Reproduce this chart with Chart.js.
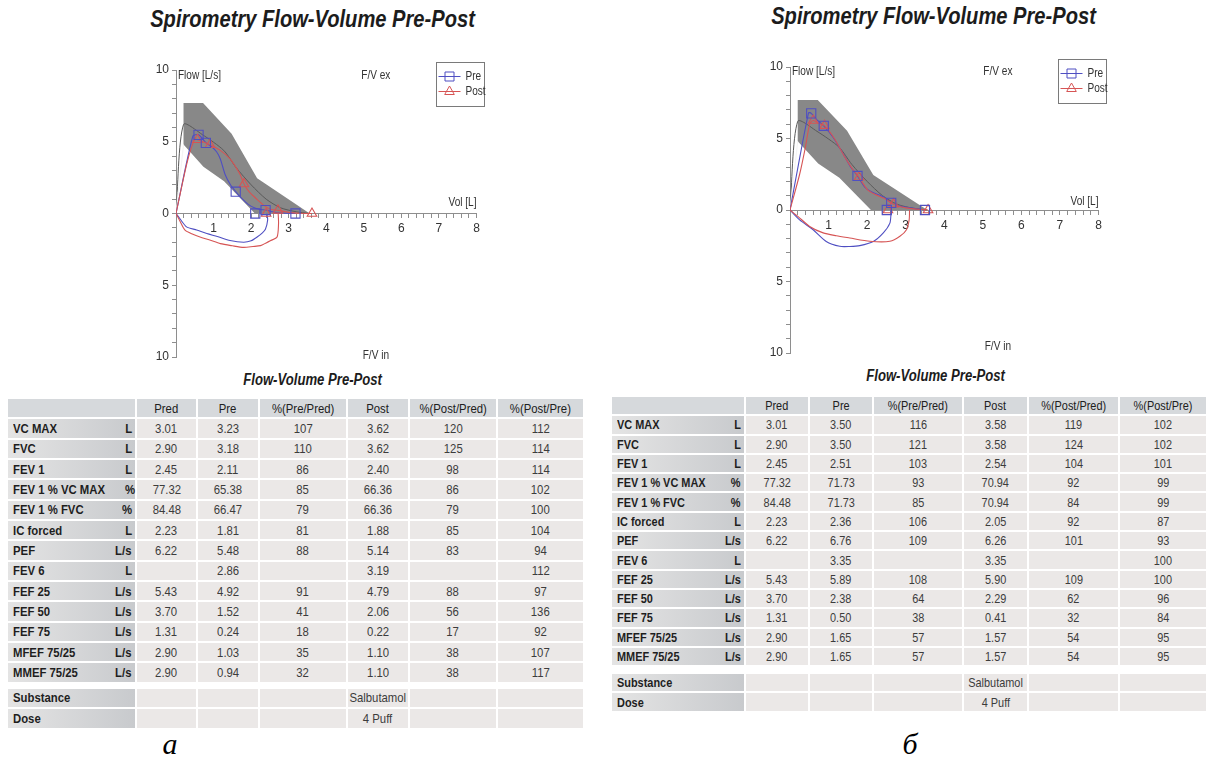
<!DOCTYPE html>
<html>
<head>
<meta charset="utf-8">
<title>Spirometry Flow-Volume Pre-Post</title>
<script src="https://cdn.jsdelivr.net/npm/chart.js@4.4.1/dist/chart.umd.min.js"></script>
<style>
  html, body { margin: 0; padding: 0; background: #fff; }
  body {
    width: 1211px; height: 765px; position: relative; overflow: hidden;
    font-family: 'Liberation Sans Narrow', 'Arial Narrow', 'Liberation Sans', Arial, sans-serif;
    color: #222;
  }
  .abs { position: absolute; }
  .narrow { display: inline-block; transform: scaleX(0.84); transform-origin: 50% 50%; white-space: nowrap; }
  .title { font-weight: bold; font-style: italic; font-size: 23px; text-align: center; white-space: nowrap; color: #1c1c1c; }
  .title .narrow { transform: scaleX(0.875); }
  .sub { font-weight: bold; font-style: italic; font-size: 16px; text-align: center; white-space: nowrap; color: #1c1c1c; }
  .sub .narrow { transform: scaleX(0.82); }
  .cap { font-family: 'Liberation Serif', 'DejaVu Serif', serif; font-style: italic; font-size: 30px; text-align: center; color: #000; }
  canvas { position: absolute; }
  .tbl { position: absolute; }
  .row { display: flex; }
  .cell {
    box-sizing: border-box; border-right: 2px solid #fff; border-bottom: 2px solid #fff;
    display: flex; align-items: center; justify-content: center;
    color: #3c3c3c; background: #ebe8e7; white-space: nowrap; overflow: visible;
  }
  .hdr .cell { background: #d6d9dc; color: #202020; }
  .lab {
    justify-content: space-between; padding: 0 3px 0 5px; font-weight: bold; color: #1e1e1e;
    background: linear-gradient(to right, #e4e4e4, #c8cacd);
  }
  .lab .narrow:first-child { transform-origin: 0 50%; }
  .lab .narrow:last-child { transform-origin: 100% 50%; }
</style>
</head>
<body>

<div class="abs title" style="left:113px; top:6px; width:400px;"><span class="narrow">Spirometry Flow-Volume Pre-Post</span></div>
<div class="abs title" style="left:734px; top:3px; width:400px;"><span class="narrow">Spirometry Flow-Volume Pre-Post</span></div>

<canvas id="fvA" width="350" height="315" style="left:140px; top:55px;"></canvas>
<canvas id="fvB" width="357" height="314" style="left:754px; top:52px;"></canvas>

<div class="abs sub" style="left:213px; top:371px; width:200px;"><span class="narrow">Flow-Volume Pre-Post</span></div>
<div class="abs sub" style="left:836px; top:367px; width:200px;"><span class="narrow">Flow-Volume Pre-Post</span></div>

<div id="tblA"></div>
<div id="tblB"></div>

<div class="abs cap" style="left:140px; top:727px; width:60px;">а</div>
<div class="abs cap" style="left:880px; top:727px; width:60px;">б</div>

<script>
// ---------- table contents ----------
const rowNames = ['VC MAX', 'FVC', 'FEV 1', 'FEV 1 % VC MAX', 'FEV 1 % FVC', 'IC forced', 'PEF',
                  'FEV 6', 'FEF 25', 'FEF 50', 'FEF 75', 'MFEF 75/25', 'MMEF 75/25'];
const rowUnits = ['L', 'L', 'L', '%', '%', 'L', 'L/s', 'L', 'L/s', 'L/s', 'L/s', 'L/s', 'L/s'];
const colHeads = ['Pred', 'Pre', '%(Pre/Pred)', 'Post', '%(Post/Pred)', '%(Post/Pre)'];
const predVals = ['3.01', '2.90', '2.45', '77.32', '84.48', '2.23', '6.22', '', '5.43', '3.70', '1.31', '2.90', '2.90'];

const preA         = ['3.23', '3.18', '2.11', '65.38', '66.47', '1.81', '5.48', '2.86', '4.92', '1.52', '0.24', '1.03', '0.94'];
const prePredPctA  = ['107', '110', '86', '85', '79', '81', '88', '', '91', '41', '18', '35', '32'];
const postA        = ['3.62', '3.62', '2.40', '66.36', '66.36', '1.88', '5.14', '3.19', '4.79', '2.06', '0.22', '1.10', '1.10'];
const postPredPctA = ['120', '125', '98', '86', '79', '85', '83', '', '88', '56', '17', '38', '38'];
const postPrePctA  = ['112', '114', '114', '102', '100', '104', '94', '112', '97', '136', '92', '107', '117'];

const preB         = ['3.50', '3.50', '2.51', '71.73', '71.73', '2.36', '6.76', '3.35', '5.89', '2.38', '0.50', '1.65', '1.65'];
const prePredPctB  = ['116', '121', '103', '93', '85', '106', '109', '', '108', '64', '38', '57', '57'];
const postB        = ['3.58', '3.58', '2.54', '70.94', '70.94', '2.05', '6.26', '3.35', '5.90', '2.29', '0.41', '1.57', '1.57'];
const postPredPctB = ['119', '124', '104', '92', '84', '92', '101', '', '109', '62', '32', '54', '54'];
const postPrePctB  = ['102', '102', '101', '99', '99', '87', '93', '100', '100', '96', '84', '95', '95'];

const extraNames = ['Substance', 'Dose'];
const extraPost  = ['Salbutamol', '4 Puff'];

// ---------- flow-volume curves [volume L, flow L/s] ----------
// predicted normal range (shaded) and predicted curve
const bandUpper = [[0.2, 7.7], [0.72, 7.7], [1.48, 5.55], [2.16, 2.45], [3.56, 0]];
const bandLower = [[2.1, 0], [1.28, 2.25], [0.73, 3.25], [0.2, 4.8]];
const predCurve = [[0, 0], [0.2, 6.2], [0.7, 5.5], [1.27, 4.4], [1.6, 3.2], [2.0, 2.0], [2.4, 1.0], [2.78, 0.4], [3.2, 0.12], [3.55, 0]];
const lowerLimitRise = [[0, 0], [0.2, 4.8]];

// panel а
const preExpA  = [[0, 0], [0.45, 5.4], [0.6, 5.48], [0.8, 4.92], [0.95, 4.65], [1.08, 4.3], [1.18, 3.8], [1.31, 2.7],
                  [1.45, 2.0], [1.59, 1.52], [1.75, 1.05], [1.93, 0.62], [2.1, 0.38], [2.25, 0.28], [2.39, 0.24],
                  [2.6, 0.1], [2.8, 0.03], [3.18, 0]];
const preInsA  = [[0, 0], [0.1, -0.35], [0.28, -0.93], [0.55, -1.15], [0.82, -1.4], [1.1, -1.6], [1.44, -1.88],
                  [1.8, -2.0], [2.0, -1.9], [2.16, -1.64], [2.3, -1.35], [2.38, -1.1], [2.44, -0.45], [2.42, 0]];
const postExpA = [[0, 0], [0.3, 3.6], [0.5, 5.2], [0.57, 5.14], [0.72, 5.0], [0.9, 4.79], [1.18, 4.4], [1.44, 3.8],
                  [1.6, 3.2], [1.71, 2.7], [1.81, 2.06], [1.95, 1.5], [2.16, 0.98], [2.35, 0.55], [2.51, 0.3],
                  [2.72, 0.22], [3.0, 0.08], [3.3, 0.02], [3.62, 0]];
const postInsA = [[0, 0], [0.1, -0.5], [0.24, -1.16], [0.45, -1.45], [0.64, -1.64], [0.9, -1.85], [1.18, -2.1],
                  [1.5, -2.25], [1.8, -2.36], [2.05, -2.3], [2.25, -2.24], [2.4, -2.05], [2.51, -1.9],
                  [2.69, -1.64], [2.73, -0.7], [2.72, 0]];
const pefVolA  = [0.6, 0.57];   // volume at peak flow: pre, post

// panel б
const preExpB  = [[0, 0], [0.48, 6.8], [0.55, 6.76], [0.7, 6.3], [0.875, 5.89], [1.12, 5.07], [1.38, 3.92],
                  [1.55, 3.1], [1.75, 2.38], [1.94, 1.6], [2.11, 1.27], [2.42, 0.92], [2.625, 0.5], [2.8, 0.3],
                  [3.02, 0.19], [3.5, 0]];
const preInsB  = [[0, 0], [0.25, -0.69], [0.6, -1.38], [0.94, -2.2], [1.29, -2.54], [1.55, -2.55], [1.81, -2.49],
                  [2.16, -2.2], [2.42, -1.6], [2.59, -0.92], [2.62, -0.2], [2.62, 0]];
const postExpB = [[0, 0], [0.25, 2.5], [0.4, 4.4], [0.51, 6.0], [0.6, 6.26], [0.75, 6.05], [0.895, 5.9], [1.15, 5.0],
                  [1.4, 3.8], [1.6, 2.95], [1.79, 2.29], [2.0, 1.45], [2.2, 1.1], [2.45, 0.8], [2.685, 0.41],
                  [3.0, 0.15], [3.58, 0]];
const postInsB = [[0, 0], [0.21, -0.46], [0.51, -1.15], [0.86, -1.6], [1.2, -1.8], [1.55, -1.96], [2.07, -2.19],
                  [2.59, -2.19], [2.85, -1.84], [3.02, -1.38], [3.09, -0.69], [3.1, 0]];
const pefVolB  = [0.55, 0.6];

// axis tick values
const volTicks  = ['1', '2', '3', '4', '5', '6', '7', '8'];
const flowTicks = ['10', '5', '0', '5', '10'];

// ---------- styling ----------
const FONT = "'Liberation Sans Narrow', 'Arial Narrow', 'Liberation Sans', Arial, sans-serif";
const PRE_COLOR = '#4f4fc2';
const POST_COLOR = '#d65454';
const AXIS_COLOR = '#8e8e8e';
const TEXT_COLOR = '#333';
const CONDENSE = 0.84;

const pts = arr => arr.map(([x, y]) => ({ x, y }));

// key points of a loop marked on the curve: PEF, FEF25/50/75, FEV1 and FVC on the volume axis
function keyPoints(vals, pefVol) {
  const fvc = parseFloat(vals[1]), fev1 = parseFloat(vals[2]), pef = parseFloat(vals[6]);
  return [
    { x: pefVol, y: pef },
    { x: 0.25 * fvc, y: parseFloat(vals[8]) },
    { x: 0.50 * fvc, y: parseFloat(vals[9]) },
    { x: 0.75 * fvc, y: parseFloat(vals[10]) },
    { x: fev1, y: 0 },
    { x: fvc, y: 0 }
  ];
}

function lineSet(data, color, width, order) {
  return { data: pts(data), showLine: true, borderColor: color, borderWidth: width, pointRadius: 0,
           tension: 0.25, fill: false, order };
}

// condensed text helper for canvas labels
function narrowText(ctx, text, x, y, align) {
  ctx.save();
  ctx.translate(x, y);
  ctx.scale(CONDENSE, 1);
  ctx.textAlign = align;
  ctx.fillText(text, 0, 0);
  ctx.restore();
}

// annotation texts and the boxed legend
const fvDecor = {
  id: 'fvDecor',
  afterDatasetsDraw(chart, args, o) {
    const { ctx, scales: { x, y }, chartArea: ca } = chart;
    ctx.save();
    ctx.font = '12px ' + FONT;
    ctx.fillStyle = TEXT_COLOR;
    ctx.textBaseline = 'middle';
    o.labels.forEach(l => narrowText(ctx, l.text, x.getPixelForValue(l.x), y.getPixelForValue(l.y), l.align));
    // legend box
    const bx = Math.round(ca.right - 41) + 0.5, by = Math.round(ca.top - 8) + 0.5, bw = 48, bh = 44;
    ctx.strokeStyle = '#7a7a7a';
    ctx.lineWidth = 1;
    ctx.strokeRect(bx, by, bw, bh);
    o.legend.forEach((it, i) => {
      const yy = by + 14 + i * 15;
      ctx.strokeStyle = it.color;
      ctx.lineWidth = 1;
      ctx.beginPath(); ctx.moveTo(bx + 2, yy); ctx.lineTo(bx + 24, yy); ctx.stroke();
      const cx = bx + 13;
      ctx.beginPath();
      if (it.shape === 'rect') {
        ctx.rect(cx - 4.5, yy - 4.5, 9, 9);
      } else {
        ctx.moveTo(cx, yy - 5.5); ctx.lineTo(cx + 4.8, yy + 3); ctx.lineTo(cx - 4.8, yy + 3); ctx.closePath();
      }
      ctx.stroke();
      ctx.fillStyle = TEXT_COLOR;
      narrowText(ctx, it.text, bx + 29, yy, 'left');
    });
    ctx.restore();
  }
};

function makeChart(id, pad, loops, labels) {
  const band = bandUpper.concat(bandLower);
  const datasets = [
    { data: pts(band), showLine: true, borderWidth: 0, borderColor: 'rgba(0,0,0,0)', backgroundColor: '#888888',
      pointRadius: 0, tension: 0, fill: 'shape', order: 20 },
    lineSet(predCurve, '#5a5a5a', 1, 19),
    lineSet(lowerLimitRise, '#f4f4f4', 1.2, 18),
    lineSet(loops.preExp, PRE_COLOR, 1.1, 12),
    lineSet(loops.preIns, PRE_COLOR, 1.1, 12),
    lineSet(loops.postExp, POST_COLOR, 1.1, 11),
    lineSet(loops.postIns, POST_COLOR, 1.1, 11),
    { data: loops.postMarks, showLine: false, pointStyle: 'triangle', pointRadius: 5.5, borderWidth: 1.1,
      borderColor: POST_COLOR, backgroundColor: 'rgba(0,0,0,0)', order: 2 },
    { data: loops.preMarks, showLine: false, pointStyle: 'rect', pointRadius: 6.5, borderWidth: 1.1,
      borderColor: PRE_COLOR, backgroundColor: 'rgba(0,0,0,0)', order: 1 }
  ];
  const tickFont = { family: FONT, size: 12 };
  return new Chart(document.getElementById(id), {
    type: 'scatter',
    data: { datasets },
    options: {
      responsive: false, animation: false, events: [],
      layout: { padding: pad },
      plugins: {
        legend: { display: false }, tooltip: { enabled: false },
        fvDecor: {
          labels,
          legend: [{ text: 'Pre', color: PRE_COLOR, shape: 'rect' }, { text: 'Post', color: POST_COLOR, shape: 'tri' }]
        }
      },
      scales: {
        x: {
          type: 'linear', min: 0, max: 8, position: { y: 0 },
          grid: { display: true, drawOnChartArea: false, drawTicks: true, tickLength: 4, color: AXIS_COLOR },
          border: { display: true, color: AXIS_COLOR, width: 1 },
          ticks: {
            stepSize: 0.2, autoSkip: false, maxRotation: 0, padding: 4, color: TEXT_COLOR, font: tickFont,
            callback: v => {
              const r = Math.round(v);
              return (Math.abs(v - r) < 1e-6 && r >= 1) ? volTicks[r - 1] : '';
            }
          }
        },
        y: {
          type: 'linear', min: -10, max: 10,
          grid: { display: true, drawOnChartArea: false, drawTicks: true, tickLength: 4, color: AXIS_COLOR },
          border: { display: true, color: AXIS_COLOR, width: 1 },
          ticks: {
            stepSize: 1, autoSkip: false, padding: 3, color: TEXT_COLOR, font: tickFont,
            callback: v => {
              const r = Math.round(v);
              return (r % 5 === 0) ? flowTicks[(10 - r) / 5] : '';
            }
          },
          afterFit: s => { s.width = 36; }
        }
      }
    },
    plugins: [fvDecor]
  });
}

makeChart('fvA', { left: 0, right: 13.5, top: 15, bottom: 13 }, {
  preExp: preExpA, preIns: preInsA, postExp: postExpA, postIns: postInsA,
  preMarks: keyPoints(preA, pefVolA[0]), postMarks: keyPoints(postA, pefVolA[1])
}, [
  { text: 'Flow [L/s]', x: 0.05, y: 9.58, align: 'left' },
  { text: 'F/V ex', x: 5.32, y: 9.58, align: 'center' },
  { text: 'Vol [L]', x: 8, y: 0.75, align: 'right' },
  { text: 'F/V in', x: 5.32, y: -9.9, align: 'center' }
]);

makeChart('fvB', { left: 0, right: 12.5, top: 15, bottom: 13 }, {
  preExp: preExpB, preIns: preInsB, postExp: postExpB, postIns: postInsB,
  preMarks: keyPoints(preB, pefVolB[0]), postMarks: keyPoints(postB, pefVolB[1])
}, [
  { text: 'Flow [L/s]', x: 0.05, y: 9.67, align: 'left' },
  { text: 'F/V ex', x: 5.39, y: 9.67, align: 'center' },
  { text: 'Vol [L]', x: 8, y: 0.6, align: 'right' },
  { text: 'F/V in', x: 5.39, y: -9.55, align: 'center' }
]);

// ---------- result tables ----------
function buildTable(hostId, cfg, cols) {
  const host = document.getElementById(hostId);
  host.className = 'tbl';
  host.style.left = cfg.left + 'px';
  host.style.top = cfg.top + 'px';
  host.style.fontSize = cfg.fontSize + 'px';

  const span = t => { const s = document.createElement('span'); s.className = 'narrow'; s.textContent = t; return s; };
  const addRow = (h, cls) => {
    const r = document.createElement('div');
    r.className = 'row' + (cls ? ' ' + cls : '');
    r.style.height = h + 'px';
    host.appendChild(r);
    return r;
  };
  const addCell = (row, w, parts, cls) => {
    const c = document.createElement('div');
    c.className = 'cell' + (cls ? ' ' + cls : '');
    c.style.width = w + 'px';
    parts.forEach(t => c.appendChild(span(t)));
    row.appendChild(c);
    return c;
  };

  const head = addRow(cfg.rowH, 'hdr');
  addCell(head, cfg.widths[0], ['']);
  colHeads.forEach((h, i) => addCell(head, cfg.widths[i + 1], [h]));

  rowNames.forEach((name, r) => {
    const row = addRow(cfg.rowH);
    addCell(row, cfg.widths[0], [name, rowUnits[r]], 'lab');
    cols.forEach((col, i) => addCell(row, cfg.widths[i + 1], [col[r]]));
  });

  const gap = document.createElement('div');
  gap.style.height = cfg.gap + 'px';
  host.appendChild(gap);

  extraNames.forEach((name, r) => {
    const row = addRow(cfg.rowH);
    addCell(row, cfg.widths[0], [name, ''], 'lab');
    ['', '', '', extraPost[r], '', ''].forEach((t, i) => addCell(row, cfg.widths[i + 1], [t]));
  });
}

buildTable('tblA', { left: 8, top: 399, widths: [129, 61, 62, 88, 62, 88, 87], rowH: 20.35, gap: 5, fontSize: 13.5 },
  [predVals, preA, prePredPctA, postA, postPredPctA, postPrePctA]);
buildTable('tblB', { left: 612, top: 397, widths: [134, 64, 64, 90, 65, 91, 88], rowH: 19.3, gap: 7, fontSize: 13 },
  [predVals, preB, prePredPctB, postB, postPredPctB, postPrePctB]);
</script>
</body>
</html>
